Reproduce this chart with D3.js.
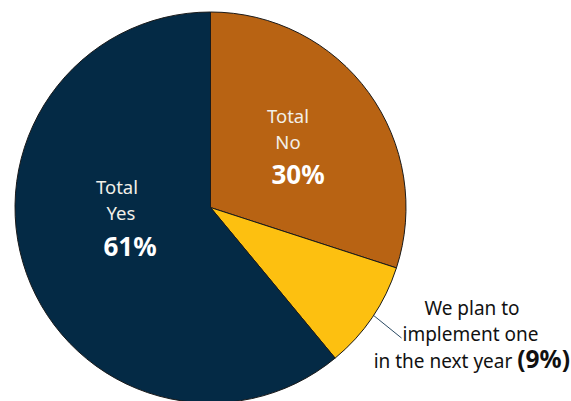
<!DOCTYPE html>
<html>
<head>
<meta charset="utf-8">
<script src="https://cdn.jsdelivr.net/npm/d3@7"></script>
<style>
  html, body { margin: 0; padding: 0; background: #fff; }
  svg { display: block; }
</style>
</head>
<body>
<svg id="chart" width="571" height="401"></svg>
<script>
// Survey answers, clockwise from 12 o'clock
const categories = ["Total No", "We plan to implement one in the next year", "Total Yes"];
const values = [30, 9, 61];
const colors = ["#b86313", "#fdc010", "#042a45"];

const width = 571, height = 401;
const cx = 210.5, cy = 207.5, radius = 195.5;
const font = "'Noto Sans', 'Open Sans', sans-serif";

const svg = d3.select("#chart");
const g = svg.append("g").attr("transform", `translate(${cx},${cy})`);

const pie = d3.pie().sort(null).value(d => d.value);
const arcs = pie(categories.map((c, i) => ({ name: c, value: values[i], color: colors[i] })));
const arc = d3.arc().innerRadius(0).outerRadius(radius);

g.selectAll("path.slice")
  .data(arcs)
  .join("path")
  .attr("class", "slice")
  .attr("d", arc)
  .attr("fill", d => d.data.color)
  .attr("stroke", "#1a1a1a")
  .attr("stroke-width", 1);

// In-slice labels: two light lines plus a bold percentage
function sliceLabel(lines, pctX, ys, d) {
  lines.forEach((t, i) => {
    g.append("text")
      .attr("x", t.x).attr("y", ys[i])
      .attr("text-anchor", "middle")
      .attr("fill", "#f2efe8")
      .attr("font-family", font)
      .attr("font-size", 18.5)
      .text(t.text);
  });
  g.append("text")
    .attr("x", pctX).attr("y", ys[2])
    .attr("text-anchor", "middle")
    .attr("fill", "#ffffff")
    .attr("font-family", font)
    .attr("font-weight", 700)
    .attr("font-size", 26)
    .text(d3.format(".0f")(d.data.value) + "%");
}

sliceLabel([{ text: "Total", x: 288 - cx }, { text: "No", x: 288 - cx }], 298 - cx,
  [123 - cy, 149 - cy, 184 - cy], arcs[0]);
sliceLabel([{ text: "Total", x: 117 - cx }, { text: "Yes", x: 121 - cx }], 130 - cx,
  [194 - cy, 220 - cy, 256 - cy], arcs[2]);

// Callout for the small slice
const small = arcs[1];
const ang = 123.5 * Math.PI / 180; // point on the rim where the leader starts
const p0 = [radius * Math.sin(ang), -radius * Math.cos(ang)];
g.append("line")
  .attr("x1", p0[0]).attr("y1", p0[1])
  .attr("x2", 401.5 - cx).attr("y2", 338 - cy)
  .attr("stroke", "#2b4a63")
  .attr("stroke-width", 1);

const ann = svg.append("g").attr("font-family", font).attr("fill", "#111");
ann.append("text").attr("x", 472).attr("y", 315).attr("text-anchor", "middle")
  .attr("font-size", 19).text("We plan to");
ann.append("text").attr("x", 470.5).attr("y", 340.5).attr("text-anchor", "middle")
  .attr("font-size", 19).text("implement one");
const last = ann.append("text").attr("x", 570).attr("y", 367.5).attr("text-anchor", "end");
last.append("tspan").attr("font-size", 19).text("in the next year ");
last.append("tspan").attr("font-size", 24.5).attr("font-weight", 700)
  .text("(" + small.data.value + "%)");
</script>
</body>
</html>
